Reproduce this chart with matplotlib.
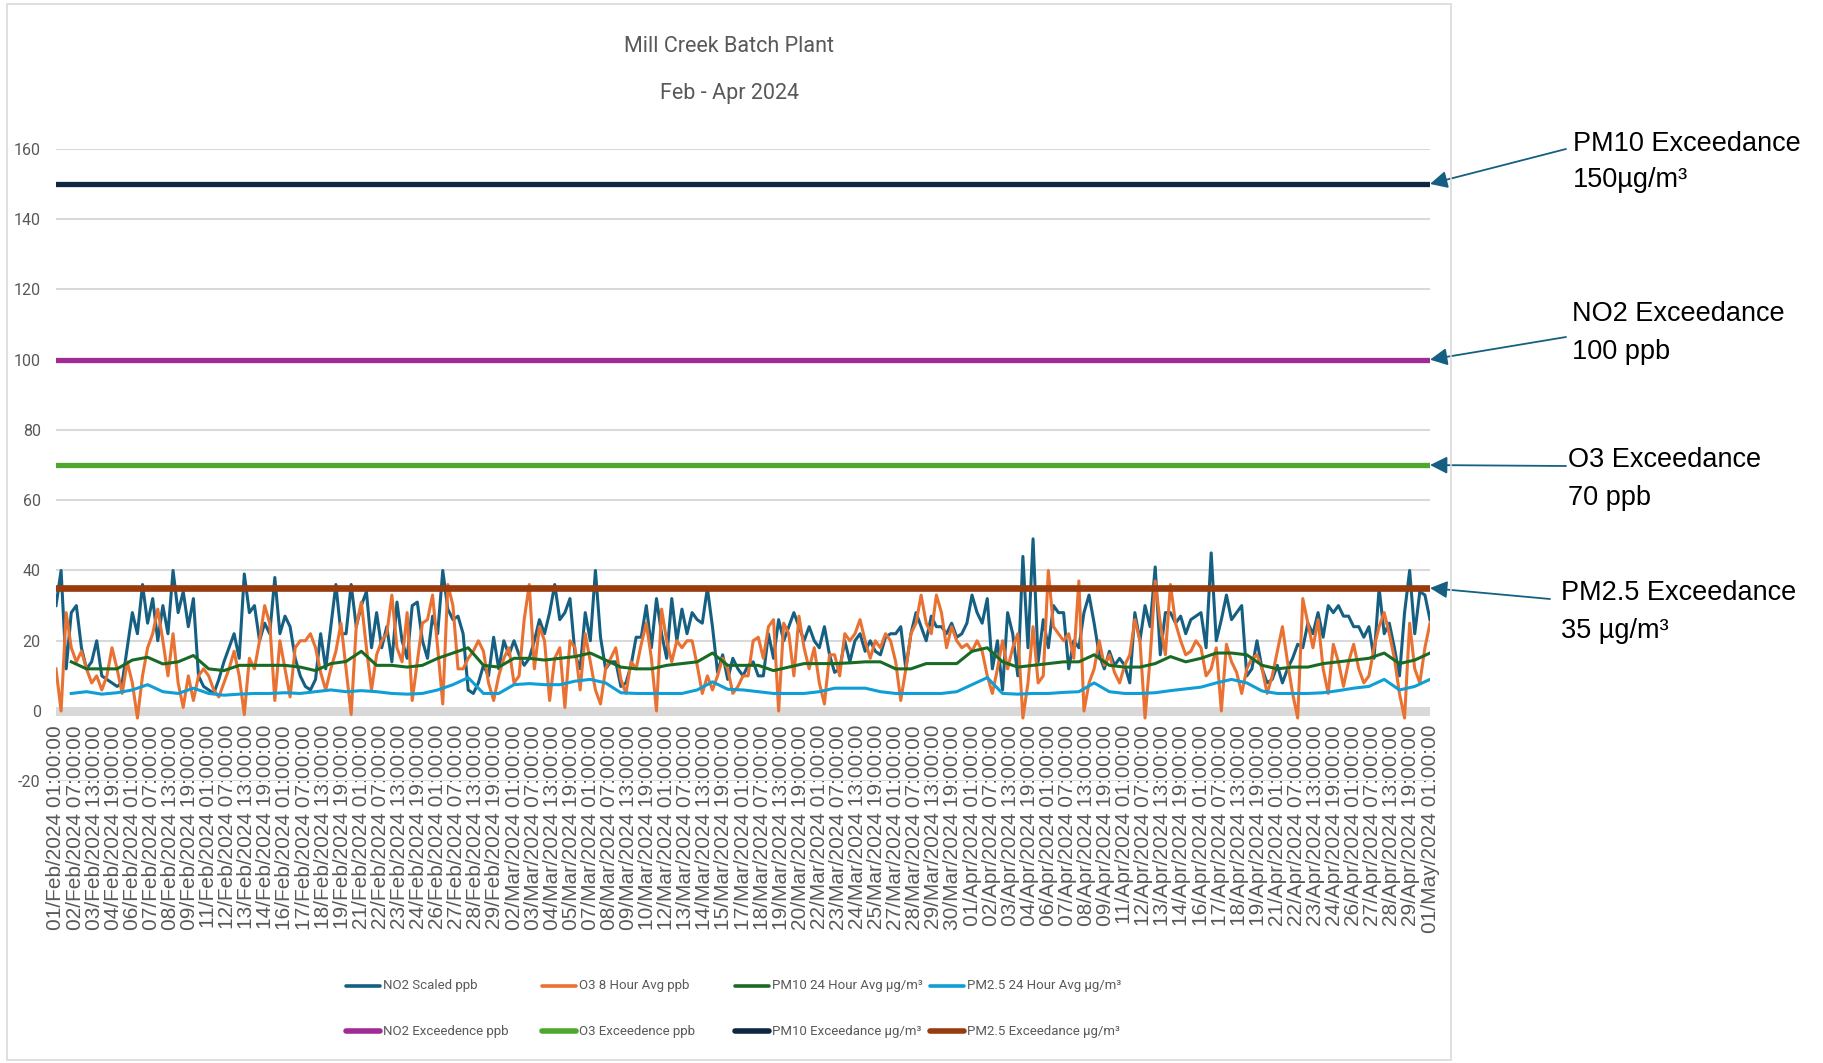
"""
Mill Creek Batch Plant air quality, Feb - Apr 2024.
Values read off the original Excel chart (hourly data, re-sampled by eye).
"""
import matplotlib
matplotlib.use("Agg")
import matplotlib.pyplot as plt
from matplotlib.lines import Line2D
from matplotlib.patches import Rectangle
import numpy as np
import pandas as pd

# --- data -------------------------------------------------------------
NO2_STEP = 8    # hours between values
O3_STEP = 8
PM_STEP = 24

no2_scaled = [
    30, 40, 12, 28, 30, 18, 12, 14, 20, 10,
    9, 8, 7, 8, 18, 28, 22, 36, 25, 32,
    20, 30, 22, 40, 28, 34, 24, 32, 10, 7,
    6, 5, 9, 14, 18, 22, 15, 39, 28, 30,
    20, 25, 22, 38,
    22,
    27, 24, 15, 10, 7, 6, 9, 22, 12, 24,
    36, 22, 22, 36, 24, 30, 34, 18, 28, 18,
    24, 14, 31, 20, 15, 30, 31, 20, 15, 27,
    22, 40, 29, 26, 27, 22, 6, 5, 8, 13,
    10, 21, 12, 20, 16,
    20, 16, 13, 15, 20, 26, 22, 28, 36, 26,
    28, 32, 16, 12, 28, 20, 40, 21, 12, 14,
    14, 7, 8, 13, 21, 21, 30, 18, 32, 22,
    15, 32, 20, 29, 22, 28, 26, 25, 35, 24,
    11, 16, 9, 15, 12, 10,
    13, 14, 10, 10, 22, 15, 26, 20, 24, 28,
    24, 20, 24, 20, 18, 24, 16, 11, 12, 20,
    14, 20, 22, 17, 20, 17, 16, 21, 22, 22,
    24, 12, 22, 28, 24, 20, 27, 24, 24, 22,
    25, 21, 22, 25, 33,
    28, 25, 32, 12, 20, 6, 28, 22, 10, 44,
    18, 49, 14, 26, 18, 30, 28, 28, 12, 20,
    18, 28, 33, 25, 16, 12, 17, 13, 15, 13,
    8, 28, 20, 30, 24, 41, 16, 28, 28, 25,
    27, 22, 26, 27, 28,
    18, 45, 20, 26, 33, 26, 28, 30, 10, 12,
    20, 12, 8, 9, 13, 8, 12, 15, 19, 18,
    25, 22, 28, 21, 30, 28, 30, 27, 27, 24,
    24, 21, 24, 15, 35, 22, 25, 18, 10, 28,
    40, 22, 34, 33, 26,
]

o3_8hr = [
    12, 0, 28, 18, 14, 17, 12, 8, 10, 6,
    10, 18, 12, 5, 14, 8, -2, 10, 18, 22,
    29, 20, 10, 22, 8, 1, 10, 3, 10, 12,
    10, 6, 4, 8, 12, 17, 10, -1, 15, 12,
    20, 30, 25, 3,
    20, 12, 4, 18, 20, 20, 22, 18, 11, 6,
    12, 17, 25, 12, -1, 24, 31, 18, 6, 16,
    20, 22, 33, 18, 14, 28, 3, 14, 25, 26,
    33, 18, 2, 36, 30, 12, 12, 15, 17, 20,
    17, 8, 3, 10, 15, 18,
    8, 10, 26, 36, 12, 24, 20, 3, 15, 18,
    1, 20, 18, 6, 22, 14, 6, 2, 12, 15,
    18, 9, 5, 14, 12, 19, 25, 15, 0, 29,
    20, 14, 20, 18, 20, 20, 13, 5, 10, 6,
    10, 15, 12, 5, 7, 10,
    10, 20, 21, 15, 24, 26, 0, 25, 22, 10,
    27, 18, 12, 18, 8, 2, 16, 16, 10, 22,
    20, 22, 26, 20, 15, 20, 18, 22, 20, 14,
    3, 12, 22, 25, 33, 25, 22, 33, 28, 18,
    24, 20, 18, 19, 17,
    20, 17, 10, 5, 12, 20, 12, 18, 22, -2,
    8, 24, 8, 10, 40, 24, 22, 20, 22, 15,
    37, 0, 8, 12, 20, 13, 16, 11, 8, 13,
    16, 26, 20, -2, 15, 37, 25, 16, 36, 25,
    20, 16, 17, 20, 18,
    10, 12, 18, 0, 19, 14, 11, 5, 12, 15,
    16, 12, 5, 10, 17, 24, 14, 5, -2, 32,
    25, 18, 26, 12, 5, 19, 14, 7, 14, 19,
    12, 8, 10, 18, 24, 28, 22, 15, 5, -2,
    25, 12, 8, 18, 25,
]

pm10_24hr = [
    np.nan, 14, 12, 12, 12, 14.5, 15.3, 13.4, 14, 15.8,
    12, 11.5, 13, 13, 13, 13, 12.5, 11.5, 13.5, 14.1,
    17, 13, 13, 12.5, 13, 15, 16.5, 18, 13, 12.5,
    15, 15, 14.5, 15, 15.5, 16.5, 14.5, 12.5, 12, 12,
    13, 13.5, 14, 16.5, 13, 13, 13, 11.5, 12.5, 13.5,
    13.5, 13.5, 13.7, 14, 14, 12, 12, 13.5, 13.5, 13.5,
    17, 18, 14, 12.5, 13, 13.5, 14, 14, 16, 13,
    12.5, 12.5, 13.5, 15.5, 14, 15, 16.5, 16.5, 16, 13,
    12, 12.5, 12.5, 13.5, 14, 14.5, 15, 16.5, 13.5, 14.5,
    16.5,
]

pm25_24hr = [
    np.nan, 5, 5.5, 4.8, 5.2, 6, 7.5, 5.5, 5, 6.5,
    5, 4.5, 4.8, 5, 5, 5.2, 5, 5.5, 6, 5.5,
    5.8, 5.5, 5, 4.8, 5, 6, 7.5, 9.5, 5, 5,
    7.5, 7.8, 7.5, 7.5, 8.5, 9, 8, 5.2, 5, 5,
    5, 5, 6, 8.3, 6.2, 6, 5.5, 5, 5, 5,
    5.5, 6.5, 6.5, 6.5, 5.5, 5, 5, 5, 5, 5.5,
    7.5, 9.5, 5, 4.8, 5, 5, 5.3, 5.5, 8, 5.5,
    5, 5, 5.2, 5.8, 6.3, 6.8, 8, 9, 8, 5.7,
    5, 5, 5, 5.2, 5.8, 6.5, 7, 9, 6, 7,
    9,
]

series_labels = ["NO2 Scaled ppb", "O3 8 Hour Avg ppb",
                 "PM10 24 Hour Avg µg/m³", "PM2.5 24 Hour Avg µg/m³"]
series_colors = ["#156082", "#E97132", "#196B24", "#0F9ED5"]

exceed_labels = ["NO2 Exceedence ppb", "O3 Exceedence ppb",
                 "PM10 Exceedance µg/m³", "PM2.5 Exceedance µg/m³"]
exceed_values = [100, 70, 150, 35]
exceed_colors = ["#A02B93", "#4EA72E", "#0E2841", "#983C0E"]
exceed_notes = [("NO2 Exceedance", "100 ppb"), ("O3 Exceedance", "70 ppb"),
                ("PM10 Exceedance", "150µg/m³"), ("PM2.5 Exceedance", "35 µg/m³")]

tick_labels = list(pd.date_range("2024-02-01 01:00", "2024-05-01 01:00",
                                 freq="30h").strftime("%d/%b/%Y %H:%M:%S"))
TICK_STEP = 30  # hours between category labels

# --- styling ----------------------------------------------------------
W, H = 1823, 1063
NARROW = ["Roboto", "DejaVu Sans"]
SANS = ["Liberation Sans", "DejaVu Sans"]
GREY = "#595959"
GRID = "#d9d9d9"
plt.rcParams["axes.unicode_minus"] = False


def fx(px):
    return px / W


def fy(py):
    return 1 - py / H


fig = plt.figure(figsize=(W / 100, H / 100), dpi=100)
fig.patch.set_facecolor("white")

# chart-area border
fig.add_artist(Rectangle((fx(7), fy(1060)), fx(1451) - fx(7), fy(3.5) - fy(1060),
                         transform=fig.transFigure, fill=False,
                         edgecolor=GRID, lw=1.2))

ax = fig.add_axes([fx(56), fy(781.3), fx(1430) - fx(56), fy(148.8) - fy(781.3)])
end_hour = (len(tick_labels) - 1) * TICK_STEP

# data series
series = [no2_scaled, o3_8hr, pm10_24hr, pm25_24hr]
steps = [NO2_STEP, O3_STEP, PM_STEP, PM_STEP]
for vals, step, lbl, col in zip(series, steps, series_labels, series_colors):
    hours = np.arange(len(vals)) * step
    ax.plot(hours, vals, color=col, lw=2.2, label=lbl, zorder=3)

# exceedance lines
for val, lbl, col in zip(exceed_values, exceed_labels, exceed_colors):
    lw = 4.8 if val == 35 else 3.8
    ax.plot([0, end_hour], [val, val], color=col, lw=lw, label=lbl,
            solid_capstyle="round", zorder=4)

# thick zero axis band
ax.axhline(0, color=GRID, lw=6.5, zorder=1)

ax.set_xlim(0, end_hour)
ax.set_ylim(-20, 160)
ax.set_yticks(range(-20, 161, 20))
ax.yaxis.grid(True, color=GRID, lw=1.5)
ax.set_axisbelow(True)
for s in ax.spines.values():
    s.set_visible(False)
ax.spines["bottom"].set_position(("data", 0))

ax.set_xticks(np.arange(len(tick_labels)) * TICK_STEP)
ax.set_xticklabels(tick_labels, rotation=90, fontsize=15, color=GREY, family=SANS)
ax.tick_params(axis="x", length=0, pad=10)
ax.tick_params(axis="y", length=0, pad=11, labelsize=11.5, labelcolor=GREY)
for t in ax.get_yticklabels():
    t.set_family(NARROW)

# title
fig.text(fx(729), fy(46), "Mill Creek Batch Plant", ha="center", va="center",
         fontsize=15.5, color=GREY, family=NARROW)
fig.text(fx(729), fy(93), "Feb - Apr 2024", ha="center", va="center",
         fontsize=15.5, color=GREY, family=NARROW)

# legend (two rows of four, as in Excel)
col_x = [346, 542, 735, 930]
row_y = [986, 1031]
rows = [(series_labels, series_colors, 2.6), (exceed_labels, exceed_colors, 4.0)]
for (labels, colors, lw), y in zip(rows, row_y):
    for lbl, col, x in zip(labels, colors, col_x):
        fig.add_artist(Line2D([fx(x), fx(x + 34)], [fy(y), fy(y)], color=col, lw=lw,
                              solid_capstyle="round", transform=fig.transFigure))
        fig.text(fx(x + 37), fy(y), lbl, ha="left", va="center", fontsize=9.5,
                 color=GREY, family=NARROW)

# callouts on the right
note_pos = {150: ((1566, 149), (1573, 144, 180)),
            100: ((1566, 337), (1572, 314, 352)),
            70: ((1566, 466), (1568, 460, 498)),
            35: ((1550, 599), (1561, 593, 631))}
for val, (line1, line2) in zip(exceed_values, exceed_notes):
    (tx, ty), (lx, y1, y2) = note_pos[val]
    ax.annotate("", xy=(end_hour, val), xycoords="data",
                xytext=(fx(tx), fy(ty)), textcoords="figure fraction",
                arrowprops=dict(arrowstyle="-|>", color="#156082", lw=1.3,
                                mutation_scale=26, shrinkA=0, shrinkB=0),
                annotation_clip=False)
    fig.text(fx(lx), fy(y1), line1, ha="left", va="center", fontsize=19.5,
             color="black", family=SANS)
    fig.text(fx(lx), fy(y2), line2, ha="left", va="center", fontsize=19.5,
             color="black", family=SANS)

fig.savefig("out.png", dpi=100, facecolor="white")
